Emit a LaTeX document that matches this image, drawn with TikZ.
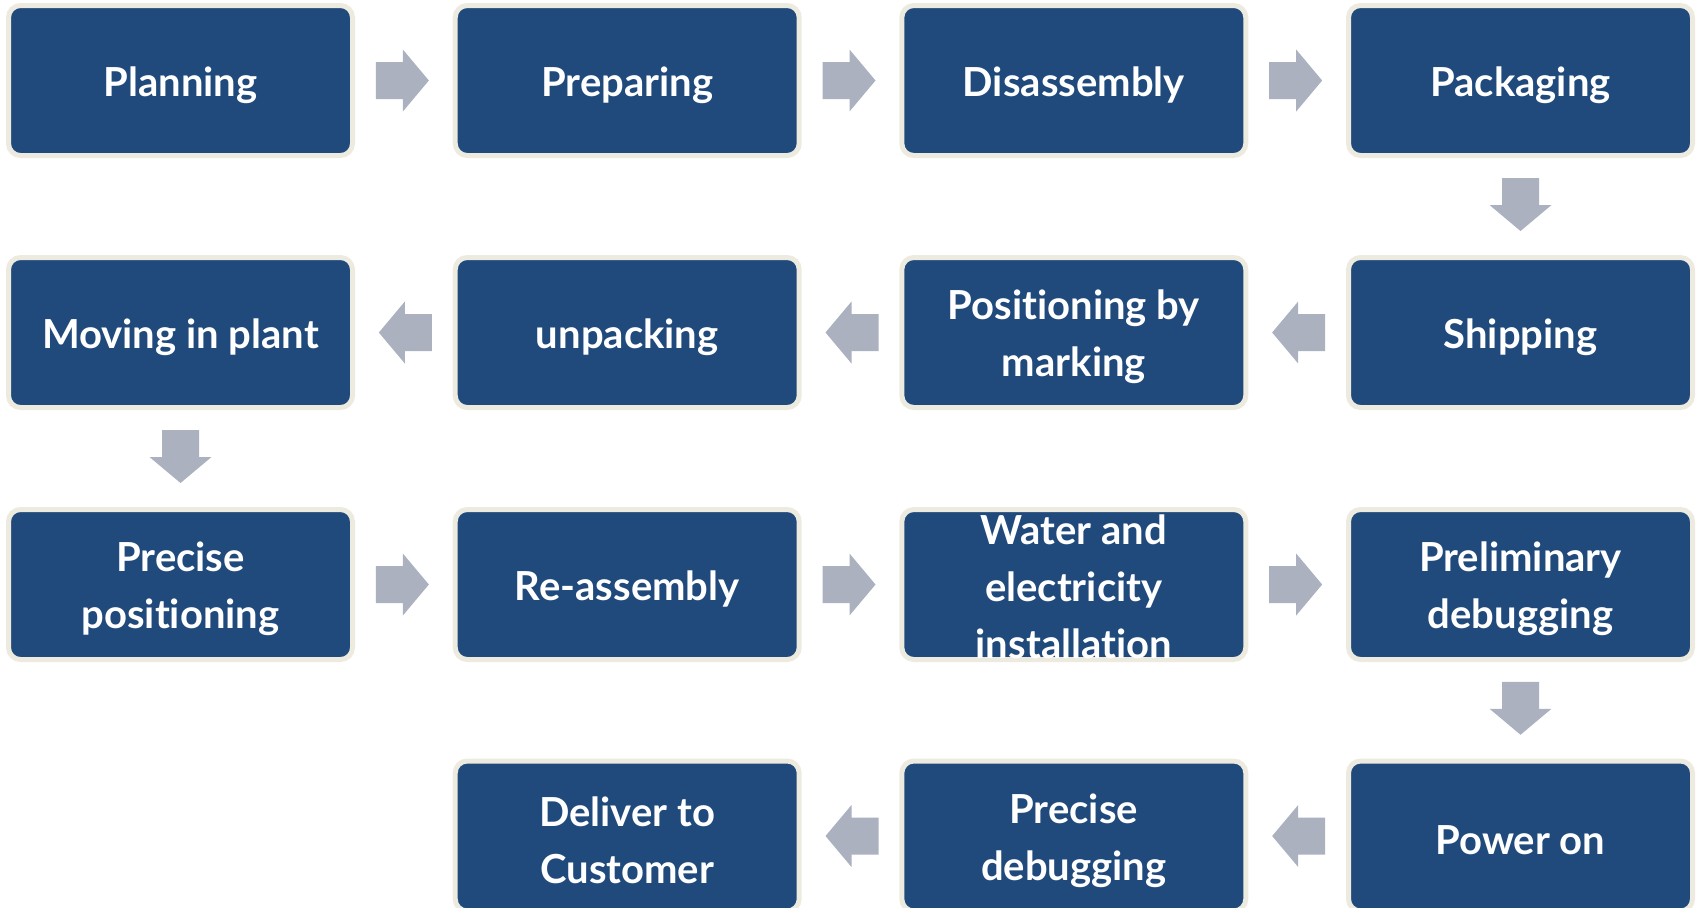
\documentclass[tikz,border=0pt]{standalone}
\usepackage{fontspec}
\setmainfont{Lato}[Ligatures=NoCommon]
\usetikzlibrary{calc}
\definecolor{boxblue}{RGB}{33,74,124}
\definecolor{boxrim}{RGB}{237,235,224}
\definecolor{arrgray}{RGB}{171,177,191}
\tikzset{
  steptext/.style={inner sep=0pt, align=center, yshift=-2.2pt,
    text=white, font=\fontsize{20}{28.5}\selectfont\bfseries},
  boxbase/.style={draw=boxrim, fill=boxblue, line width=2.5pt, rounded corners=6pt,
    minimum width=172pt, minimum height=75pt, inner sep=0pt},
  stepbox/.style={boxbase, label={[steptext]center:#1}},
  stepboxtall/.style={boxbase, label={[steptext,yshift=1pt]center:#1}},
  rarr/.pic={\fill[arrgray] (-26.5,-18.5) -- (0.5,-18.5) -- (0.5,-31) -- (26.5,0) -- (0.5,31) -- (0.5,18.5) -- (-26.5,18.5) -- cycle;},
  larr/.pic={\fill[arrgray] (26.5,-18.5) -- (-0.5,-18.5) -- (-0.5,-31) -- (-26.5,0) -- (-0.5,31) -- (-0.5,18.5) -- (26.5,18.5) -- cycle;},
  darr/.pic={\fill[arrgray] (-18.5,-26.5) -- (-18.5,0.5) -- (-31,0.5) -- (0,26.5) -- (31,0.5) -- (18.5,0.5) -- (18.5,-26.5) -- cycle;}
}
\begin{document}
\begin{tikzpicture}[x=0.5pt,y=-0.5pt]
\useasboundingbox (0,0) rectangle (1696,907);
% row 1
\node[stepbox={Planning}] (a1) at (180.5,80.5) {};
\node[stepbox={Preparing}] (a2) at (627.2,80.5) {};
\node[stepbox={Disassembly}] (a3) at (1073.8,80.5) {};
\node[stepbox={Packaging}] (a4) at (1520.5,80.5) {};
% row 2
\node[stepbox={Shipping}] (b4) at (1520.5,332.5) {};
\node[stepbox={Positioning by\\marking}] (b3) at (1073.8,332.5) {};
\node[stepbox={unpacking}] (b2) at (627.2,332.5) {};
\node[stepbox={Moving in plant}] (b1) at (180.5,332.5) {};
% row 3
\node[stepbox={Precise\\positioning}] (c1) at (180.5,584.5) {};
\node[stepbox={Re-assembly}] (c2) at (627.2,584.5) {};
\node[stepboxtall={Water and\\electricity\\installation}] (c3) at (1073.8,584.5) {};
\node[stepbox={Preliminary\\debugging}] (c4) at (1520.5,584.5) {};
% row 4
\node[stepbox={Power on}] (d4) at (1520.5,836) {};
\node[stepbox={Precise\\debugging}] (d3) at (1073.8,836) {};
\node[stepbox={Deliver to\\Customer}] (d2) at (627.2,836) {};
% arrows
\pic at ($(a1.east)!0.5!(a2.west)+(-1.5,0)$) {rarr};
\pic at ($(a2.east)!0.5!(a3.west)+(-1.5,0)$) {rarr};
\pic at ($(a3.east)!0.5!(a4.west)+(-1.5,0)$) {rarr};
\pic at ($(a4.south)!0.5!(b4.north)+(0,-2)$) {darr};
\pic at ($(b4.west)!0.5!(b3.east)+(1.5,0)$) {larr};
\pic at ($(b3.west)!0.5!(b2.east)+(1.5,0)$) {larr};
\pic at ($(b2.west)!0.5!(b1.east)+(1.5,0)$) {larr};
\pic at ($(b1.south)!0.5!(c1.north)+(0,-2)$) {darr};
\pic at ($(c1.east)!0.5!(c2.west)+(-1.5,0)$) {rarr};
\pic at ($(c2.east)!0.5!(c3.west)+(-1.5,0)$) {rarr};
\pic at ($(c3.east)!0.5!(c4.west)+(-1.5,0)$) {rarr};
\pic at ($(c4.south)!0.5!(d4.north)+(0,-2)$) {darr};
\pic at ($(d4.west)!0.5!(d3.east)+(1.5,0)$) {larr};
\pic at ($(d3.west)!0.5!(d2.east)+(1.5,0)$) {larr};
\end{tikzpicture}
\end{document}
